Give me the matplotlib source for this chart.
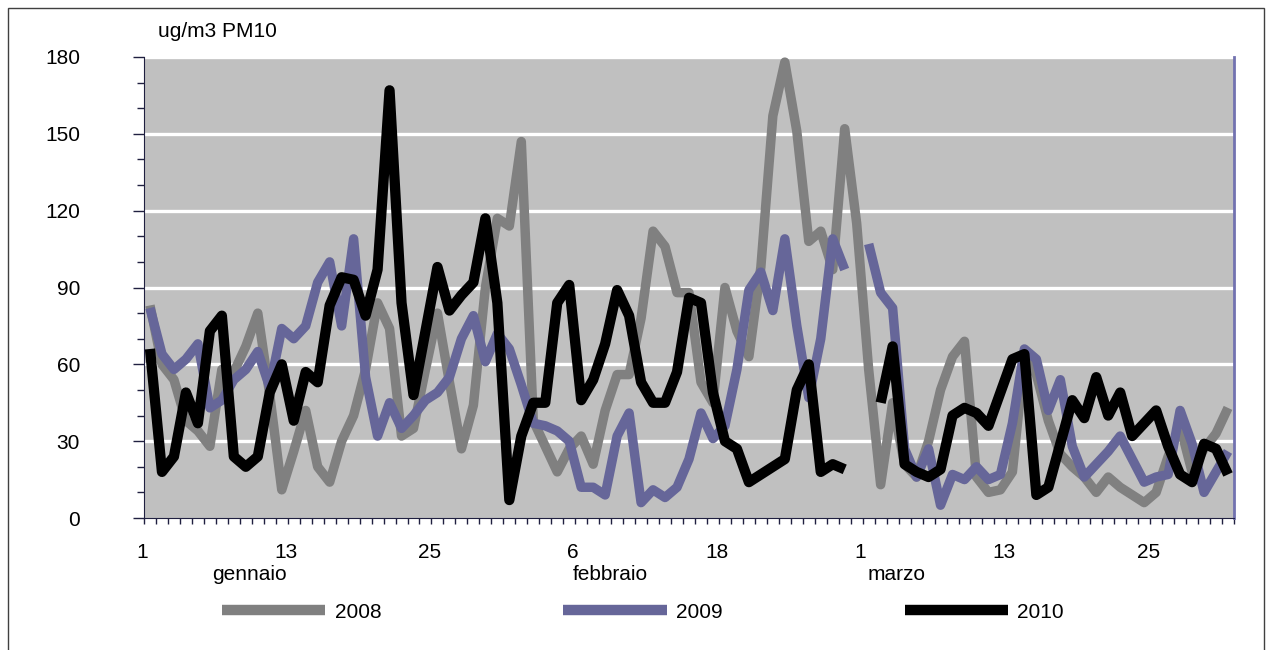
import numpy as np
import matplotlib
matplotlib.use("Agg")
from matplotlib import pyplot as plt
from matplotlib.lines import Line2D
from matplotlib.patches import Rectangle
from matplotlib.ticker import MultipleLocator
from matplotlib.transforms import ScaledTranslation, blended_transform_factory

plt.rcParams["font.family"] = ["Liberation Sans", "DejaVu Sans"]

nan = np.nan

# daily PM10, one slot per day from 1 Jan to 31 Mar (29 Feb included)
pm10_2008 = [
    83, 60, 54, 38, 34, 28, 58, 57, 67, 80,
    48, 11, 26, 42, 20, 14, 30, 40, 58, 84,
    74, 32, 35, 58, 80, 53, 27, 44, 90, 117,
    114, 147, 38, 28, 18, 27, 32, 21, 42, 56,
    56, 78, 112, 106, 88, 88, 53, 45, 90, 73,
    63, 98, 157, 178, 151, 108, 112, 97, 152, 115,
    58, 13, 45, 21, 16, 30, 50, 63, 69, 16,
    10, 11, 18, 63, 56, 38, 25, 20, 16, 10,
    16, 12, 9, 6, 10, 24, 36, 18, 27, 33, 43,
]
pm10_2009 = [
    82, 64, 58, 62, 68, 43, 46, 54, 58, 65,
    51, 74, 70, 75, 92, 100, 75, 109, 55, 32,
    45, 35, 40, 46, 49, 55, 70, 79, 61, 72,
    66, 52, 37, 36, 34, 30, 12, 12, 9, 32,
    41, 6, 11, 8, 12, 23, 41, 31, 36, 58,
    89, 96, 81, 109, 75, 47, 70, 109, 97, nan,
    107, 88, 82, 27, 16, 27, 5, 17, 15, 20,
    15, 17, 37, 66, 62, 42, 54, 28, 16, 21,
    26, 32, 23, 14, 16, 17, 42, 29, 10, 18, 26,
]
pm10_2010 = [
    66, 18, 24, 49, 37, 73, 79, 24, 20, 24,
    49, 60, 38, 57, 53, 83, 94, 93, 79, 97,
    167, 84, 48, 73, 98, 81, 87, 92, 117, 84,
    7, 32, 45, 45, 84, 91, 46, 54, 68, 89,
    79, 53, 45, 45, 57, 86, 84, 49, 30, 27,
    14, 17, 20, 23, 50, 60, 18, 21, 19, nan,
    nan, 45, 67, 21, 18, 16, 19, 40, 43, 41,
    36, 49, 62, 64, 9, 12, 29, 46, 39, 55,
    40, 49, 32, 37, 42, 28, 17, 14, 29, 27, 17,
]
years = ["2008", "2009", "2010"]
colors = ["#808080", "#666699", "#000000"]
line_widths = [6.8, 6.8, 7.4]

tick_days = [1, 13, 25, 37, 49, 61, 73, 85]
tick_labels = ["1", "13", "25", "6", "18", "1", "13", "25"]
months = ["gennaio", "febbraio", "marzo"]
month_pos = [9.3, 39.4, 63.3]

W, H, DPI = 1272, 650, 100
FS = 15
AXIS_COL = "#202040"

fig = plt.figure(figsize=(W / DPI, H / DPI), dpi=DPI)
ax = fig.add_axes([144 / W, 1 - 518 / H, (1234 - 144) / W, (518 - 57) / H])
ax.set_facecolor("#c0c0c0")

days = np.arange(1, len(pm10_2008) + 1)
for vals, col, lw, lab in zip([pm10_2008, pm10_2009, pm10_2010], colors, line_widths, years):
    ax.plot(days, vals, color=col, lw=lw, label=lab, zorder=3,
            solid_joinstyle="round", solid_capstyle="butt")

ax.set_xlim(0.5, len(days) + 0.5)
ax.set_ylim(0, 180)

for v in range(30, 181, 30):
    ax.axhline(v, color="white", lw=2.4, zorder=1)

# y axis
ax.set_yticks(range(0, 181, 30))
ax.yaxis.set_minor_locator(MultipleLocator(10))
ax.tick_params(axis="y", which="major", length=8, width=1, pad=38,
               labelsize=FS, color=AXIS_COL)
ax.tick_params(axis="y", which="minor", length=5, width=1, color=AXIS_COL)

# x axis: a tick between each day, labels drawn by hand
ax.set_xticks(np.arange(0.5, len(days) + 1, 1))
ax.tick_params(axis="x", length=4, width=1, color=AXIS_COL, labelbottom=False)

ax.spines["top"].set_visible(False)
ax.spines["left"].set_color(AXIS_COL)
ax.spines["bottom"].set_color(AXIS_COL)
ax.spines["right"].set_color("#7272b0")
ax.spines["right"].set_linewidth(2)

trans = blended_transform_factory(ax.transData, ax.transAxes)
day_off = ScaledTranslation(-8 / DPI, -40 / DPI, fig.dpi_scale_trans)
for d, lab in zip(tick_days, tick_labels):
    ax.text(d, 0, lab, transform=trans + day_off, ha="center", va="baseline",
            fontsize=FS, clip_on=False)
month_off = ScaledTranslation(0, -62 / DPI, fig.dpi_scale_trans)
for p, m in zip(month_pos, months):
    ax.text(p, 0, m, transform=trans + month_off, ha="center", va="baseline",
            fontsize=FS, clip_on=False)

fig.text(158 / W, 1 - 37 / H, "ug/m3 PM10", fontsize=FS, va="baseline")

handles = [Line2D([], [], color=c, lw=7.5, solid_capstyle="butt") for c in colors]
fig.legend(handles, years, loc="center left", bbox_to_anchor=(222 / W, 1 - 612 / H),
           ncol=3, frameon=False, fontsize=FS, handlelength=4.95,
           handletextpad=0.45, columnspacing=8.75, borderpad=0, borderaxespad=0)

# outer chart frame
fig.add_artist(Rectangle((8 / W, -0.05), (1264 - 8) / W, 1.05 - 8 / H,
                         transform=fig.transFigure, fill=False,
                         ec="#404040", lw=1))

fig.savefig("out.png", dpi=DPI)
